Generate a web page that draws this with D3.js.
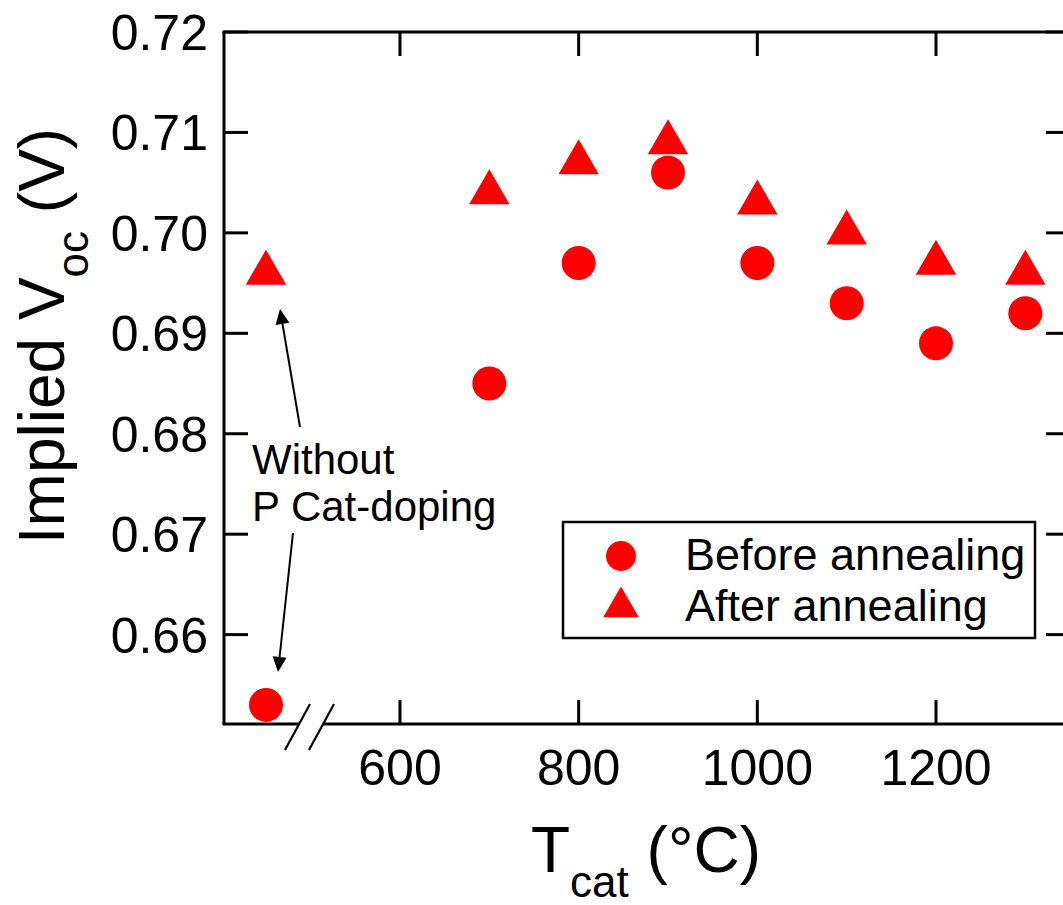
<!DOCTYPE html>
<html>
<head>
<meta charset="utf-8">
<script src="https://cdn.jsdelivr.net/npm/d3@7"></script>
<style>
  html, body { margin: 0; padding: 0; background: #fff; }
  svg { display: block; font-family: Arial, "Liberation Sans", Helvetica, sans-serif; }
</style>
</head>
<body>
<svg id="chart" width="1063" height="905"></svg>
<script>
// ---- Data ----
// T_cat in °C; 450 is the position of the "without P Cat-doping" sample, placed left of the axis break
const tcat = [450, 700, 800, 900, 1000, 1100, 1200, 1300];
const beforeAnnealing = [0.653, 0.685, 0.697, 0.706, 0.697, 0.693, 0.689, 0.692];
const afterAnnealing  = [0.696, 0.704, 0.707, 0.709, 0.703, 0.700, 0.697, 0.696];
const xTickValues = [600, 800, 1000, 1200];
const yTickValues = [0.66, 0.67, 0.68, 0.69, 0.70, 0.71, 0.72];
const seriesNames = ["Before annealing", "After annealing"];
const annotationLines = ["Without", "P Cat-doping"];

// ---- Layout ----
const svg = d3.select("#chart");
const L = 224, R = 1070, T = 32, B = 724;
const red = "#ff0000";
const x = d3.scaleLinear().domain([403, 1350]).range([L, R]);
const y = d3.scaleLinear().domain([0.6511, 0.72]).range([B, T]);
const tickLen = 24;
const axisW = 3;

const g = svg.append("g");

// frame: left, top, right
g.append("line").attr("x1", L).attr("x2", L).attr("y1", T).attr("y2", B)
  .attr("stroke", "#000").attr("stroke-width", axisW);
g.append("line").attr("x1", L - 1.5).attr("x2", R).attr("y1", T).attr("y2", T)
  .attr("stroke", "#000").attr("stroke-width", axisW);
g.append("line").attr("x1", R).attr("x2", R).attr("y1", T).attr("y2", B)
  .attr("stroke", "#000").attr("stroke-width", axisW);

// bottom axis with break
const brkA = 299, brkB = 323;
g.append("line").attr("x1", L - 1.5).attr("x2", brkA).attr("y1", B).attr("y2", B)
  .attr("stroke", "#000").attr("stroke-width", axisW);
g.append("line").attr("x1", brkB).attr("x2", R).attr("y1", B).attr("y2", B)
  .attr("stroke", "#000").attr("stroke-width", axisW);
[brkA, brkB].forEach(cx => {
  g.append("line")
    .attr("x1", cx - 14).attr("y1", B + 26)
    .attr("x2", cx + 11).attr("y2", B - 20)
    .attr("stroke", "#000").attr("stroke-width", 2.2);
});

// x ticks (bottom and top, inward)
xTickValues.forEach(v => {
  const px = x(v);
  g.append("line").attr("x1", px).attr("x2", px).attr("y1", B).attr("y2", B - tickLen)
    .attr("stroke", "#000").attr("stroke-width", axisW);
  g.append("line").attr("x1", px).attr("x2", px).attr("y1", T).attr("y2", T + tickLen)
    .attr("stroke", "#000").attr("stroke-width", axisW);
  g.append("text").attr("x", px).attr("y", 785)
    .attr("text-anchor", "middle").attr("font-size", 50).attr("fill", "#000")
    .text(v);
});

// y ticks (left and right, inward)
yTickValues.forEach(v => {
  const py = y(v);
  g.append("line").attr("x1", L).attr("x2", L + tickLen).attr("y1", py).attr("y2", py)
    .attr("stroke", "#000").attr("stroke-width", axisW);
  g.append("line").attr("x1", R).attr("x2", R - tickLen).attr("y1", py).attr("y2", py)
    .attr("stroke", "#000").attr("stroke-width", axisW);
  g.append("text").attr("x", 208).attr("y", py).attr("dy", "0.36em")
    .attr("text-anchor", "end").attr("font-size", 50).attr("fill", "#000")
    .text(d3.format(".2f")(v));
});

// axis titles
const xt = g.append("text").attr("x", 646).attr("y", 872)
  .attr("text-anchor", "middle").attr("font-size", 64).attr("fill", "#000");
xt.append("tspan").text("T");
xt.append("tspan").attr("font-size", 44).attr("dy", 25).text("cat");
xt.append("tspan").attr("dy", -25).text(" (°C)");

const yt = g.append("text").attr("transform", "translate(64,336) rotate(-90)")
  .attr("text-anchor", "middle").attr("font-size", 64).attr("fill", "#000");
yt.append("tspan").text("Implied V");
yt.append("tspan").attr("font-size", 44).attr("dy", 24).text("oc");
yt.append("tspan").attr("dy", -24).text(" (V)");

// data markers
const triPlot = d3.symbol().type(d3.symbolTriangle).size(707);
const triLegend = d3.symbol().type(d3.symbolTriangle).size(551);

g.append("g").selectAll("circle").data(tcat.map((t, i) => ({t, v: beforeAnnealing[i]})))
  .join("circle")
  .attr("cx", d => x(d.t)).attr("cy", d => y(d.v)).attr("r", 17)
  .attr("fill", red);

g.append("g").selectAll("path").data(tcat.map((t, i) => ({t, v: afterAnnealing[i]})))
  .join("path")
  .attr("d", triPlot)
  .attr("transform", d => `translate(${x(d.t)},${y(d.v)})`)
  .attr("fill", red);

// annotation
const ax = x(tcat[0]);
function arrow(x1, y1, x2, y2) {
  const ang = Math.atan2(y2 - y1, x2 - x1);
  const hl = 15, hw = 7;
  const bx = x2 - hl * Math.cos(ang), by = y2 - hl * Math.sin(ang);
  g.append("line").attr("x1", x1).attr("y1", y1).attr("x2", bx).attr("y2", by)
    .attr("stroke", "#000").attr("stroke-width", 2);
  const px = -Math.sin(ang) * hw, py = Math.cos(ang) * hw;
  g.append("path")
    .attr("d", `M${x2},${y2}L${bx + px},${by + py}L${bx - px},${by - py}Z`)
    .attr("fill", "#000");
}
arrow(ax + 34, 427, ax + 14, y(afterAnnealing[0]) + 36);
arrow(ax + 27, 533, ax + 12, y(beforeAnnealing[0]) - 33);

annotationLines.forEach((s, i) => {
  g.append("text").attr("x", 252).attr("y", 474 + i * 47)
    .attr("font-size", 42).attr("fill", "#000").text(s);
});

// legend
const lg = g.append("g");
lg.append("rect").attr("x", 563).attr("y", 522).attr("width", 472).attr("height", 116)
  .attr("fill", "#fff").attr("stroke", "#000").attr("stroke-width", 2.5);
seriesNames.forEach((name, i) => {
  const base = 570 + i * 51;
  if (i === 0) {
    lg.append("circle").attr("cx", 621).attr("cy", base - 14).attr("r", 15).attr("fill", red);
  } else {
    lg.append("path").attr("d", triLegend).attr("transform", `translate(621,${base - 14})`)
      .attr("fill", red);
  }
  lg.append("text").attr("x", 685).attr("y", base).attr("font-size", 45)
    .attr("fill", "#000").text(name);
});
</script>
</body>
</html>
